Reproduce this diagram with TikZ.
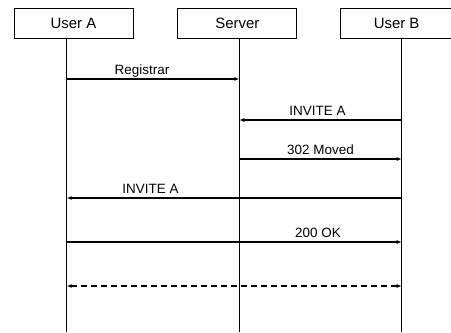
\documentclass[tikz,border=0pt]{standalone}
\usepackage{fontspec}
\setmainfont{Liberation Sans}
\usetikzlibrary{arrows.meta, positioning}
\tikzset{
  actor/.style={rectangle, draw=black, line width=0.8bp, minimum width=119bp,
                minimum height=30bp, inner sep=0pt, font=\fontsize{15}{17}\selectfont},
  life/.style={line width=0.9bp},
  % mensagem entre linhas de vida
  msg/.style={-{Latex[length=5bp,width=4bp]}, line width=1.1bp},
  dmsg/.style={{Latex[length=5bp,width=4bp]}-{Latex[length=5bp,width=4bp]},
               line width=1.5bp, dash pattern=on 6bp off 4bp},
  lbl/.style={font=\fontsize{13.5}{15}\selectfont, anchor=base, yshift=5bp, inner sep=0pt}
}
\begin{document}
\begin{tikzpicture}[x=1bp, y=1bp]
    \useasboundingbox (0,0) rectangle (451,-332);
    \node[actor] (ua) at (73.5,-23) {User A};
    \node[actor, right=44bp of ua] (sv) {Server};
    \node[actor, right=43bp of sv] (ub) {\hspace*{-7bp}User B};
    % linhas de vida
    \coordinate (la) at (66.7,-38);
    \coordinate (ls) at (239.3,-38);
    \coordinate (lb) at (401.7,-38);
    \coordinate (ea) at (66.7,-332);
    \coordinate (es) at (239.3,-332);
    \coordinate (eb) at (401.7,-332);
    \draw[life] (la) -- (ea);
    \draw[life] (ls) -- (es);
    \draw[life] (lb) -- (eb);
    \draw[msg] (la |- 0,-79) -- node[lbl, xshift=-11bp] {Registrar} (ls |- 0,-79);
    \draw[msg] (lb |- 0,-120) -- node[lbl, xshift=-3bp] {INVITE A} (ls |- 0,-120);
    \draw[msg] (ls |- 0,-159) -- node[lbl] {302 Moved} (lb |- 0,-159);
    \draw[msg] (lb |- 0,-198) -- node[lbl, pos=0.75] {INVITE A} (la |- 0,-198);
    \draw[msg] (la |- 0,-242) -- node[lbl, pos=0.75] {200 OK} (lb |- 0,-242);
    \draw[dmsg] (la |- 0,-286) -- (lb |- 0,-286);
  \end{tikzpicture}
\end{document}
